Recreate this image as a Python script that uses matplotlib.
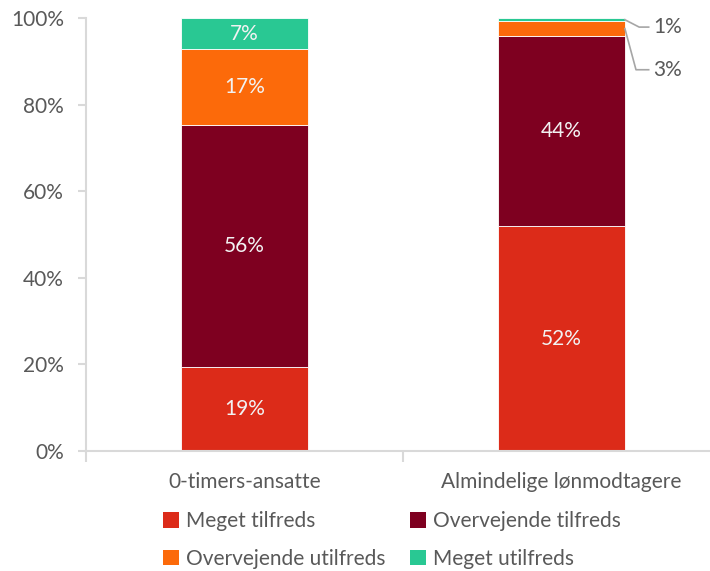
import matplotlib
matplotlib.use("Agg")
import matplotlib.pyplot as plt
from matplotlib.patches import Patch
import numpy as np

categories = ["0-timers-ansatte", "Almindelige lønmodtagere"]
series_names = ["Meget tilfreds", "Overvejende tilfreds", "Overvejende utilfreds", "Meget utilfreds"]
meget_tilfreds = [19.3, 51.9]
overvejende_tilfreds = [56.1, 44.0]
overvejende_utilfreds = [17.4, 3.3]
meget_utilfreds = [7.2, 0.8]
series = [meget_tilfreds, overvejende_tilfreds, overvejende_utilfreds, meget_utilfreds]
colors = ["#DC2B19", "#7E0020", "#FC6A0A", "#29C893"]
yticks = [0, 20, 40, 60, 80, 100]

plt.rcParams['font.family'] = ['Lato', 'DejaVu Sans']
txt = "#595959"
FS = 15

fig = plt.figure(figsize=(7.10, 5.71), dpi=100)
ax = fig.add_axes([86/710, 120/571, 634/710, 433/571])

x = np.arange(len(categories))
bottom = np.zeros(len(categories))
bars = []
for vals, c in zip(series, colors):
    b = ax.bar(x, vals, width=0.4, bottom=bottom, color=c, edgecolor="white", linewidth=0.6)
    bars.append((b, np.array(vals), bottom.copy()))
    bottom += np.array(vals)

# labels inside
for b, vals, bot in bars:
    for i, (v, bt) in enumerate(zip(vals, bot)):
        if v >= 5:
            ax.text(x[i], bt + v/2, f"{round(v)}%", ha="center", va="center",
                    color="#F2F2F2", fontsize=FS)

# small segment annotations for second bar
i = 1
xr = x[i] + 0.2
mid1 = bars[3][2][i] + bars[3][1][i]/2
mid3 = bars[2][2][i] + bars[2][1][i]/2
y1 = mid1 - 1.7
y3 = mid3 - 9.5
ax.plot([xr, xr + 0.045, xr + 0.075], [mid1, y1, y1], color="#A6A6A6", lw=1.2, clip_on=False)
ax.text(xr + 0.09, y1, f"{round(bars[3][1][i])}%", ha="left", va="center", color=txt, fontsize=FS)
ax.plot([xr, xr + 0.035, xr + 0.075], [mid3, y3, y3], color="#A6A6A6", lw=1.2, clip_on=False)
ax.text(xr + 0.09, y3, f"{round(bars[2][1][i])}%", ha="left", va="center", color=txt, fontsize=FS)

ax.set_xlim(-0.5, 1.5)
ax.set_ylim(0, 100)
ax.set_yticks(yticks)
ax.set_yticklabels([f"{t}%" for t in yticks], color=txt, fontsize=FS)
ax.set_xticks(x)
ax.set_xticklabels(categories, color=txt, fontsize=FS)
ax.tick_params(axis="x", length=0, pad=15)
ax.set_xticks([-0.5, 0.5, 1.5], minor=True)
ax.tick_params(axis="x", which="minor", length=8, color="#D9D9D9", width=1.5)
ax.tick_params(axis="y", length=6, color="#D9D9D9", width=1.5, pad=10)
for s in ["top", "right"]:
    ax.spines[s].set_visible(False)
for s in ["left", "bottom"]:
    ax.spines[s].set_color("#D9D9D9")
    ax.spines[s].set_linewidth(1.5)

order = [0, 2, 1, 3]
handles = [Patch(facecolor=colors[k], edgecolor="none") for k in order]
labels = [series_names[k] for k in order]
fig.legend(handles, labels, loc="center", bbox_to_anchor=(392/710, 1 - 540/571), ncol=2,
           frameon=False, handlelength=0.75, handleheight=0.75, handletextpad=0.35,
           columnspacing=1.2, labelspacing=0.85, prop={'size': FS},
           labelcolor=txt)

fig.savefig("out.png", dpi=100)
